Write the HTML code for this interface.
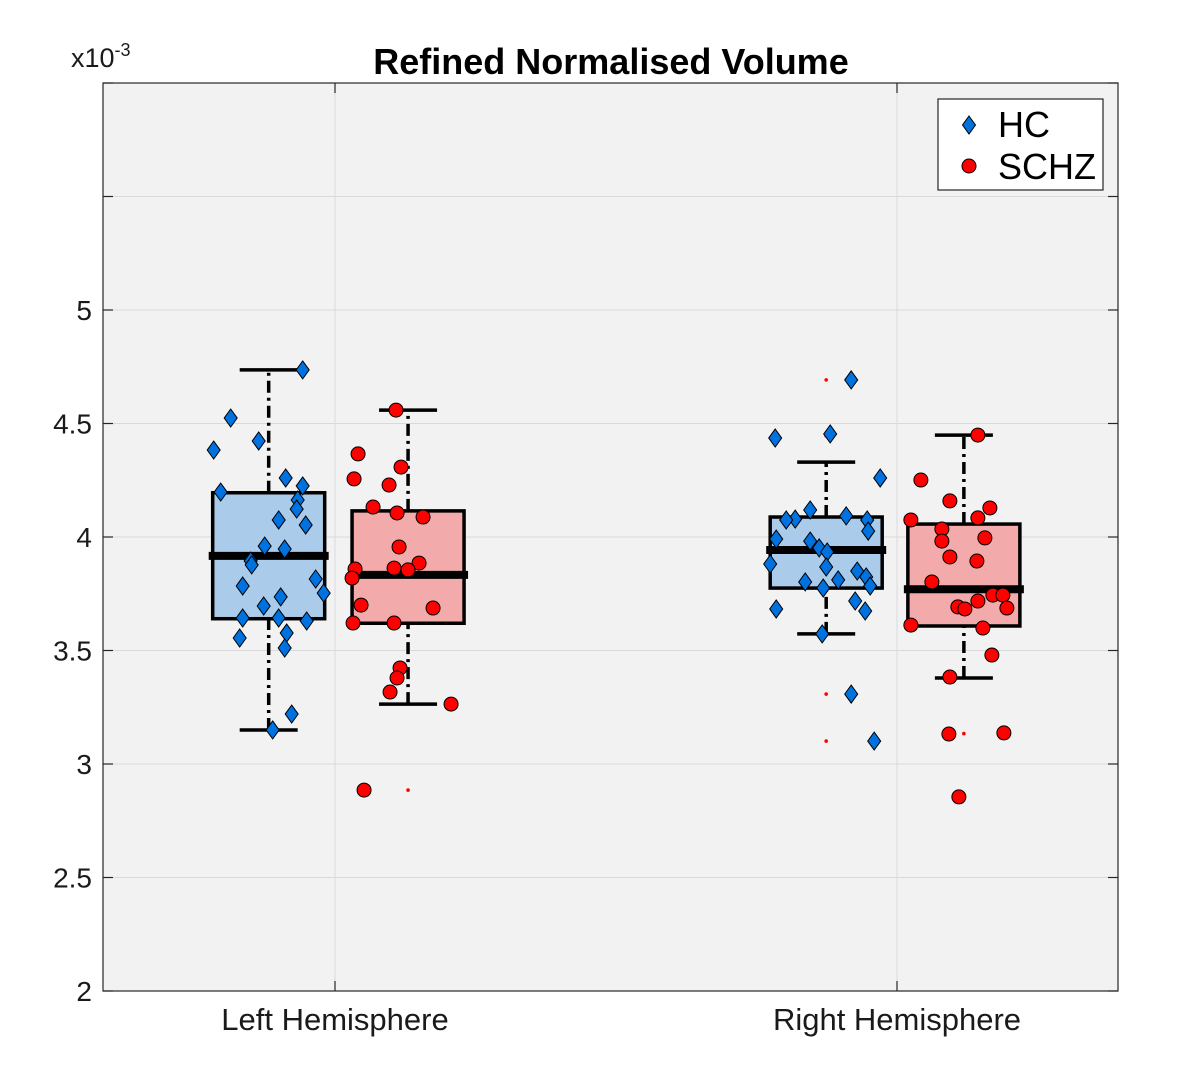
<!DOCTYPE html>
<html><head><meta charset="utf-8"><style>
body{margin:0;background:#fff;}
svg{display:block;font-family:"Liberation Sans",Arial,sans-serif;}
</style></head><body>
<svg id="chart" width="1181" height="1069" viewBox="0 0 1181 1069"></svg>
<script>
const categories=["Left Hemisphere","Right Hemisphere"];
const yTicks=[2,2.5,3,3.5,4,4.5,5];
const groupOffsetsLeft=[-0.118,0.13];
const groupOffsetsRight=[-0.126,0.119];
// box stats: [whiskerLow,q1,median,q3,whiskerHigh]
const boxLeftHC=[3.15,3.64,3.917,4.195,4.736];
const boxLeftSZ=[3.264,3.62,3.833,4.115,4.559];
const boxRightHC=[3.573,3.775,3.943,4.088,4.33];
const boxRightSZ=[3.379,3.608,3.77,4.057,4.449];
const smallDotsLeftSZ=[2.885];
const smallDotsRightHC=[4.692,4.445,3.308,3.101];
const smallDotsRightSZ=[3.134];
const leftHC=[4.736,4.524,4.383,4.423,4.198,4.26,4.225,4.163,4.123,4.075,4.053,3.96,3.947,3.894,3.877,3.784,3.815,3.753,3.736,3.696,3.643,3.643,3.63,3.555,3.577,3.511,3.22,3.15];
const leftHCJit=[34,-38,-55,-10,-48,17,34,29,28,10,37,-4,16,-18,-17,-26,47,55,12,-5,-26,10,38,-29,18,16,23,4];
const leftSZ=[4.559,4.366,4.256,4.308,4.229,4.132,4.106,4.088,3.956,3.859,3.819,3.863,3.885,3.855,3.7,3.687,3.621,3.621,3.423,3.379,3.317,3.264,2.885];
const leftSZJit=[-12,-50,-54,-7,-19,-35,-11,15,-9,-53,-56,-14,11,0,-47,25,-55,-14,-8,-11,-18,43,-44];
const rightHC=[4.692,4.436,4.454,4.26,4.119,4.079,4.075,4.093,4.075,4.026,3.991,3.982,3.952,3.934,3.868,3.881,3.85,3.824,3.811,3.775,3.802,3.784,3.718,3.674,3.683,3.573,3.308,3.101];
const rightHCJit=[25,-51,4,54,-16,-31,-40,20,41,42,-50,-16,-7,1,0,-56,31,40,12,-3,-21,44,29,39,-50,-4,25,48];
const rightSZ=[4.449,4.251,4.159,4.128,4.075,4.084,4.035,3.982,3.996,3.912,3.894,3.802,3.744,3.718,3.692,3.683,3.744,3.687,3.612,3.599,3.48,3.383,3.132,3.137,2.855];
const rightSZJit=[14,-43,-14,26,-53,14,-22,-22,21,-14,13,-32,29,14,-6,1,39,43,-53,19,28,-14,-15,40,-5];

const NS="http://www.w3.org/2000/svg";
const svg=document.getElementById('chart');
const L=103,R=1118,T=83,B=991;
const yS=v=>B-(v-2)*(B-T)/4;
const xS=v=>335+(v-1)*562;
function mk(tag,attrs,parent){const e=document.createElementNS(NS,tag);for(const k in attrs)e.setAttribute(k,attrs[k]);(parent||svg).appendChild(e);return e;}

const bg=mk('rect',{x:L,y:T,width:R-L,height:B-T,fill:'#f2f2f2'});


const gridG=mk('g',{stroke:'#d9d9d9','stroke-width':1});


[2.5,3,3.5,4,4.5,5,5.5].forEach(v=>mk('line',{x1:L,x2:R,y1:yS(v),y2:yS(v)},gridG));
[1,2].forEach(c=>mk('line',{x1:xS(c),x2:xS(c),y1:T,y2:B},gridG));
const tickG=mk('g',{stroke:'#262626','stroke-width':1.2});
[2,2.5,3,3.5,4,4.5,5,5.5,6].forEach(v=>{mk('line',{x1:L,x2:L+10,y1:yS(v),y2:yS(v)},tickG);mk('line',{x1:R-10,x2:R,y1:yS(v),y2:yS(v)},tickG);});
[1,2].forEach(c=>{mk('line',{x1:xS(c),x2:xS(c),y1:B,y2:B-10},tickG);mk('line',{x1:xS(c),x2:xS(c),y1:T,y2:T+10},tickG);});
yTicks.forEach(v=>{const t=mk('text',{x:L-11,y:yS(v)+10,'text-anchor':'end','font-size':28,fill:'#1a1a1a'});t.textContent=String(v);

});
categories.forEach((c,i)=>{const t=mk('text',{x:xS(i+1),y:1030,'text-anchor':'middle','font-size':31,fill:'#1a1a1a'});t.textContent=c;

});

function drawBox(stats,cx,fill,name){
  const g=mk('g',{});
  
  
  const x=xS(cx);
  mk('line',{x1:x,x2:x,y1:yS(stats[0]),y2:yS(stats[1]),stroke:'#000','stroke-width':3.5,'stroke-dasharray':'12,5,3,5'},g);
  mk('line',{x1:x,x2:x,y1:yS(stats[3]),y2:yS(stats[4]),stroke:'#000','stroke-width':3.5,'stroke-dasharray':'12,5,3,5'},g);
  mk('line',{x1:x-29,x2:x+29,y1:yS(stats[0]),y2:yS(stats[0]),stroke:'#000','stroke-width':3.5},g);
  mk('line',{x1:x-29,x2:x+29,y1:yS(stats[4]),y2:yS(stats[4]),stroke:'#000','stroke-width':3.5},g);
  mk('rect',{x:x-56,y:yS(stats[3]),width:112,height:yS(stats[1])-yS(stats[3]),fill:fill,stroke:'#000','stroke-width':3.5},g);
  mk('line',{x1:x-60,x2:x+60,y1:yS(stats[2]),y2:yS(stats[2]),stroke:'#000','stroke-width':8},g);
}
function diamond(x,y,p){return mk('path',{d:`M${x} ${y-9}L${x+6.5} ${y}L${x} ${y+9}L${x-6.5} ${y}Z`,fill:'#0072e0',stroke:'#000','stroke-width':1},p);}
function drawPts(vals,jit,cx,type,name){
  const g=mk('g',{});
  
  
  vals.forEach((v,i)=>{const x=xS(cx)+jit[i],y=yS(v);
    if(type==='d')diamond(x,y,g);else mk('circle',{cx:x,cy:y,r:7,fill:'#ff0000',stroke:'#000','stroke-width':1},g);});
}
function drawDots(vals,cx,name){
  const g=mk('g',{fill:'#ff0000'});
  
  
  vals.forEach(v=>mk('circle',{cx:xS(cx),cy:yS(v),r:1.8},g));
}
drawBox(boxLeftHC,1+groupOffsetsLeft[0],'#aacbea','box-left-hc');
drawBox(boxLeftSZ,1+groupOffsetsLeft[1],'#f2aaaa','box-left-schz');
drawBox(boxRightHC,2+groupOffsetsRight[0],'#aacbea','box-right-hc');
drawBox(boxRightSZ,2+groupOffsetsRight[1],'#f2aaaa','box-right-schz');
drawDots(smallDotsLeftSZ,1+groupOffsetsLeft[1],'outlier-left-schz');
drawDots(smallDotsRightHC,2+groupOffsetsRight[0],'outlier-right-hc');
drawDots(smallDotsRightSZ,2+groupOffsetsRight[1],'outlier-right-schz');
drawPts(leftHC,leftHCJit,1+groupOffsetsLeft[0],'d','points-left-hc');
drawPts(leftSZ,leftSZJit,1+groupOffsetsLeft[1],'c','points-left-schz');
drawPts(rightHC,rightHCJit,2+groupOffsetsRight[0],'d','points-right-hc');
drawPts(rightSZ,rightSZJit,2+groupOffsetsRight[1],'c','points-right-schz');

const frame=mk('rect',{x:L,y:T,width:R-L,height:B-T,fill:'none',stroke:'#262626','stroke-width':1.2});



const title=mk('text',{x:611,y:74,'text-anchor':'middle','font-size':36,'font-weight':'bold',fill:'#000'});
title.textContent='Refined Normalised Volume';


const exp=mk('text',{x:71,y:67,'font-size':27,fill:'#1a1a1a'});
exp.innerHTML='x10<tspan dy="-11" font-size="18">-3</tspan>';



const lg=mk('g',{});


mk('rect',{x:938,y:99,width:165,height:91,fill:'#fff',stroke:'#262626','stroke-width':1.2},lg);
const e1=mk('g',{},lg);


diamond(969,125,e1);
const t1=mk('text',{x:998,y:137,'font-size':36,fill:'#000'},e1);t1.textContent='HC';
const e2=mk('g',{},lg);


mk('circle',{cx:969,cy:166,r:7,fill:'#ff0000',stroke:'#000','stroke-width':1},e2);
const t2=mk('text',{x:998,y:179,'font-size':36,fill:'#000'},e2);t2.textContent='SCHZ';
</script>
</body></html>
